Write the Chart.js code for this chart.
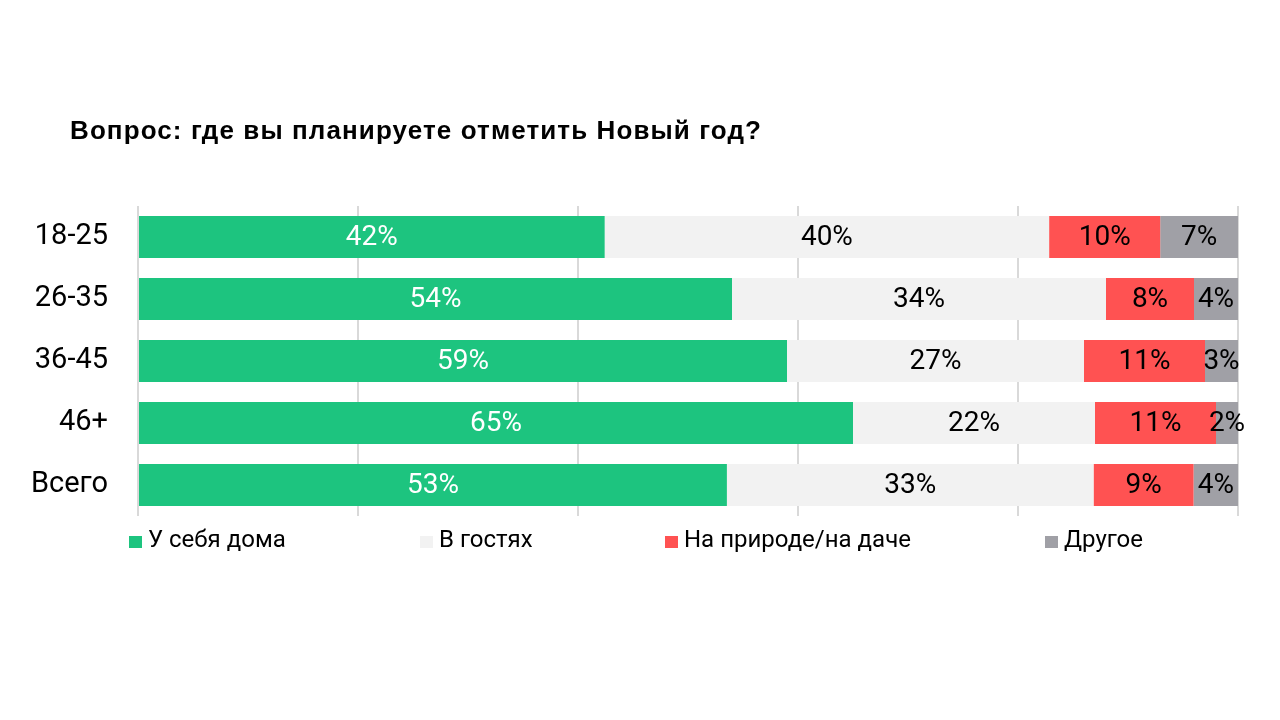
<!DOCTYPE html>
<html>
<head>
<meta charset="utf-8">
<script src="https://cdn.jsdelivr.net/npm/chart.js@4/dist/chart.umd.min.js"></script>
<style>
  html, body { margin: 0; padding: 0; background: #fff; }
  #wrap { position: relative; width: 1280px; height: 720px; }
  #title {
    position: absolute; left: 70px; top: 115px; line-height: 30px;
    font: bold 26px "Liberation Sans", Arial, sans-serif; letter-spacing: 1.1px; color: #000;
  }
  #legend { position: absolute; top: 525px; left: 0; width: 1280px; height: 28px; }
  .item { position: absolute; top: 0; font: 24px Roboto, sans-serif; color: #000; line-height: 28px; white-space: nowrap; }
  .item span.box { display: inline-block; width: 13px; height: 12px; margin-right: 6px; vertical-align: -1px; }
</style>
</head>
<body>
<div id="wrap">
  <div id="title">Вопрос: где вы планируете отметить Новый год?</div>
  <canvas id="myChart" width="1280" height="720"></canvas>
  <div id="legend"></div>
</div>
<script>
// категории и ответы
const groups = ['18-25', '26-35', '36-45', '46+', 'Всего'];
const seriesNames = ['У себя дома', 'В гостях', 'На природе/на даче', 'Другое'];
const atHome = [42, 54, 59, 65, 53];
const visiting = [40, 34, 27, 22, 33];
const outdoors = [10, 8, 11, 11, 9];
const other = [7, 4, 3, 2, 4];
const xTicks = [0, 20, 40, 60, 80, 100];

const colors = ['#1dc47f', '#f2f2f2', '#ff5252', '#a0a0a6'];
const labelColors = ['#ffffff', '#000000', '#000000', '#000000'];
const legendLeft = [129, 420, 665, 1045];

const raw = [atHome, visiting, outdoors, other];
// каждая строка нормируется до 100%
const rowSums = groups.map((g, i) => raw.reduce((s, arr) => s + arr[i], 0));

const datasets = raw.map((arr, k) => ({
  label: seriesNames[k],
  data: arr.map((v, i) => v / rowSums[i] * 100),
  rawValues: arr,
  backgroundColor: colors[k],
  borderWidth: 0,
  barPercentage: 0.68,
  categoryPercentage: 1
}));

// подписи внутри сегментов
const valueLabels = {
  id: 'valueLabels',
  afterDatasetsDraw(chart) {
    const ctx = chart.ctx;
    ctx.save();
    ctx.font = '28px Roboto';
    ctx.textAlign = 'center';
    ctx.textBaseline = 'middle';
    chart.data.datasets.forEach((ds, k) => {
      const meta = chart.getDatasetMeta(k);
      meta.data.forEach((bar, i) => {
        const x = (bar.x + bar.base) / 2;
        ctx.fillStyle = labelColors[k];
        ctx.fillText(ds.rawValues[i] + '%', x, bar.y + 1);
      });
    });
    ctx.restore();
  }
};

const ctx = document.getElementById('myChart').getContext('2d');
const chart = new Chart(ctx, {
  type: 'bar',
  data: { labels: groups, datasets: datasets },
  options: {
    indexAxis: 'y',
    responsive: false,
    animation: false,
    layout: { padding: { top: 206, right: 42, bottom: 204, left: 0 } },
    plugins: {
      legend: { display: false },
      tooltip: { enabled: false }
    },
    scales: {
      x: {
        stacked: true,
        min: 0,
        max: 100,
        afterBuildTicks: (scale) => { scale.ticks = xTicks.map(v => ({ value: v })); },
        ticks: { display: false },
        grid: { color: '#d9d9d9', lineWidth: 2, drawTicks: false },
        border: { display: false },
        afterFit: (scale) => { scale.height = 0; }
      },
      y: {
        stacked: true,
        grid: { display: false, drawTicks: false },
        border: { display: false },
        ticks: { color: '#000', font: { family: 'Roboto', size: 29 }, padding: 30 },
        afterFit: (scale) => { scale.width = 138; }
      }
    }
  },
  plugins: [valueLabels]
});

// легенда
const legend = document.getElementById('legend');
seriesNames.forEach((name, k) => {
  const el = document.createElement('div');
  el.className = 'item';
  el.style.left = legendLeft[k] + 'px';
  el.innerHTML = '<span class="box" style="background:' + colors[k] + '"></span>' + name;
  legend.appendChild(el);
});
</script>
</body>
</html>
